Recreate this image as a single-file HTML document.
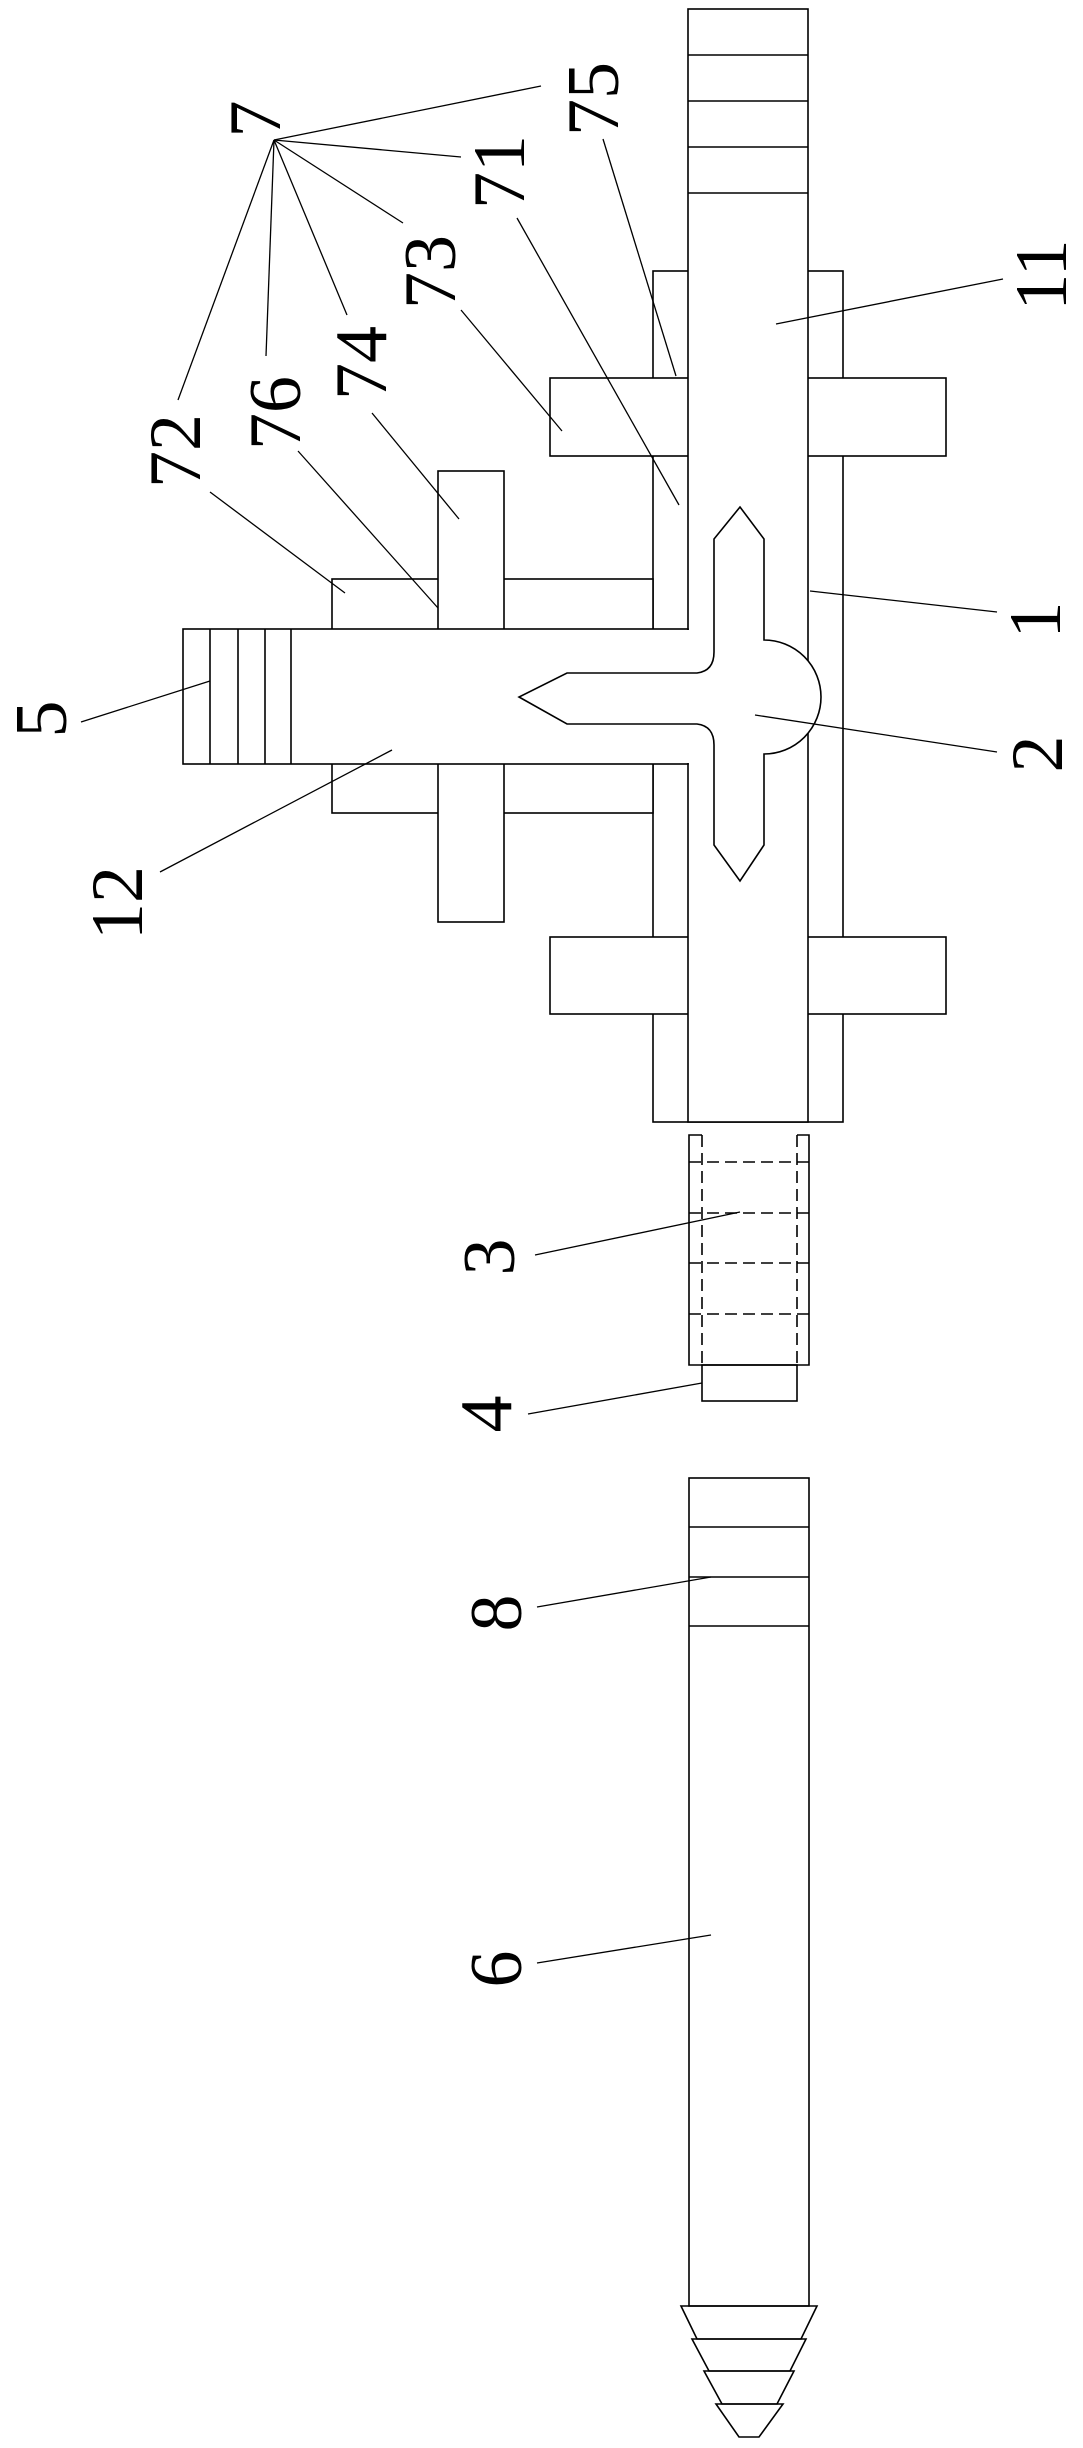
<!DOCTYPE html>
<html><head><meta charset="utf-8"><style>html,body{margin:0;padding:0;background:#fff}svg{display:block}</style></head>
<body>
<svg width="1083" height="2448" viewBox="0 0 1083 2448" xmlns="http://www.w3.org/2000/svg">
<g fill="none" stroke="#000" stroke-width="1.6">
<rect x="653" y="271" width="190" height="851"/>
<rect x="550" y="378" width="396" height="78" fill="#fff"/>
<rect x="550" y="937" width="396" height="77" fill="#fff"/>
<rect x="332" y="579" width="321" height="234" fill="#fff"/>
<rect x="438" y="471" width="66" height="451" fill="#fff"/>
<rect x="688" y="9" width="120" height="1113" fill="#fff"/>
<line x1="688" y1="55" x2="808" y2="55"/>
<line x1="688" y1="101" x2="808" y2="101"/>
<line x1="688" y1="147" x2="808" y2="147"/>
<line x1="688" y1="193" x2="808" y2="193"/>
<rect x="183" y="629" width="505" height="135" fill="#fff"/>
<line x1="688" y1="630" x2="688" y2="763" stroke="#fff" stroke-width="3"/>
<line x1="210" y1="629" x2="210" y2="764"/>
<line x1="238" y1="629" x2="238" y2="764"/>
<line x1="265" y1="629" x2="265" y2="764"/>
<line x1="291" y1="629" x2="291" y2="764"/>
<path d="M740,507 L764,539 L764,640 A57,57 0 0 1 764,754 L764,845 L740,881 L714,845 L714,745 Q714,726 697,724 L567,724 L519,697 L567,673 L697,673 Q714,671 714,652 L714,539 Z" fill="#fff"/>
<path d="M702,1135 L689,1135 L689,1365 L809,1365 L809,1135 L797,1135"/>
<g stroke-dasharray="12,6">
<line x1="702" y1="1135" x2="702" y2="1365"/>
<line x1="797" y1="1135" x2="797" y2="1365"/>
<line x1="689" y1="1162" x2="809" y2="1162"/>
<line x1="689" y1="1213" x2="809" y2="1213"/>
<line x1="689" y1="1263" x2="809" y2="1263"/>
<line x1="689" y1="1314" x2="809" y2="1314"/>
</g>
<rect x="702" y="1365" width="95" height="36"/>
<rect x="689" y="1478" width="120" height="828"/>
<line x1="689" y1="1527" x2="809" y2="1527"/>
<line x1="689" y1="1577" x2="809" y2="1577"/>
<line x1="689" y1="1626" x2="809" y2="1626"/>
<polygon points="681,2306 817,2306 801,2339 697,2339"/>
<polygon points="692,2339 806,2339 790,2371 709,2371"/>
<polygon points="704,2371 794,2371 777,2404 722,2404"/>
<polygon points="716,2404 783,2404 759,2437 739,2437"/>
</g>
<g stroke="#000" stroke-width="1.3">
<line x1="274" y1="140" x2="541" y2="86"/>
<line x1="274" y1="140" x2="461" y2="157"/>
<line x1="274" y1="140" x2="403" y2="223"/>
<line x1="274" y1="140" x2="347" y2="315"/>
<line x1="274" y1="140" x2="266" y2="356"/>
<line x1="274" y1="140" x2="178" y2="400"/>
<line x1="603" y1="139" x2="676" y2="376"/>
<line x1="517" y1="218" x2="679" y2="505"/>
<line x1="461" y1="310" x2="562" y2="431"/>
<line x1="372" y1="413" x2="459" y2="519"/>
<line x1="298" y1="451" x2="438" y2="608"/>
<line x1="210" y1="492" x2="345" y2="593"/>
<line x1="1003" y1="279" x2="776" y2="324"/>
<line x1="997" y1="612" x2="810" y2="591"/>
<line x1="997" y1="752" x2="755" y2="715"/>
<line x1="81" y1="722" x2="210" y2="681"/>
<line x1="160" y1="872" x2="392" y2="750"/>
<line x1="535" y1="1255" x2="740" y2="1212"/>
<line x1="528" y1="1414" x2="702" y2="1383"/>
<line x1="537" y1="1607" x2="711" y2="1577"/>
<line x1="537" y1="1963" x2="711" y2="1935"/>
</g>
<g font-family="'Liberation Serif', serif" font-size="74" fill="#000" text-anchor="middle" dominant-baseline="central">
<text transform="translate(256,119) rotate(-90)">7</text>
<text transform="translate(594,99) rotate(-90)">75</text>
<text transform="translate(500,172) rotate(-90)">71</text>
<text transform="translate(431,272) rotate(-90)">73</text>
<text transform="translate(362,363) rotate(-90)">74</text>
<text transform="translate(276,413) rotate(-90)">76</text>
<text transform="translate(176,451) rotate(-90)">72</text>
<text transform="translate(1042,275) rotate(-90)">11</text>
<text transform="translate(1036,620) rotate(-90)">1</text>
<text transform="translate(1038,754) rotate(-90)">2</text>
<text transform="translate(42,719) rotate(-90)">5</text>
<text transform="translate(118,903) rotate(-90)">12</text>
<text transform="translate(490,1257) rotate(-90)">3</text>
<text transform="translate(487,1414) rotate(-90)">4</text>
<text transform="translate(497,1613) rotate(-90)">8</text>
<text transform="translate(497,1969) rotate(-90)">6</text>
</g>
</svg>
</body></html>
